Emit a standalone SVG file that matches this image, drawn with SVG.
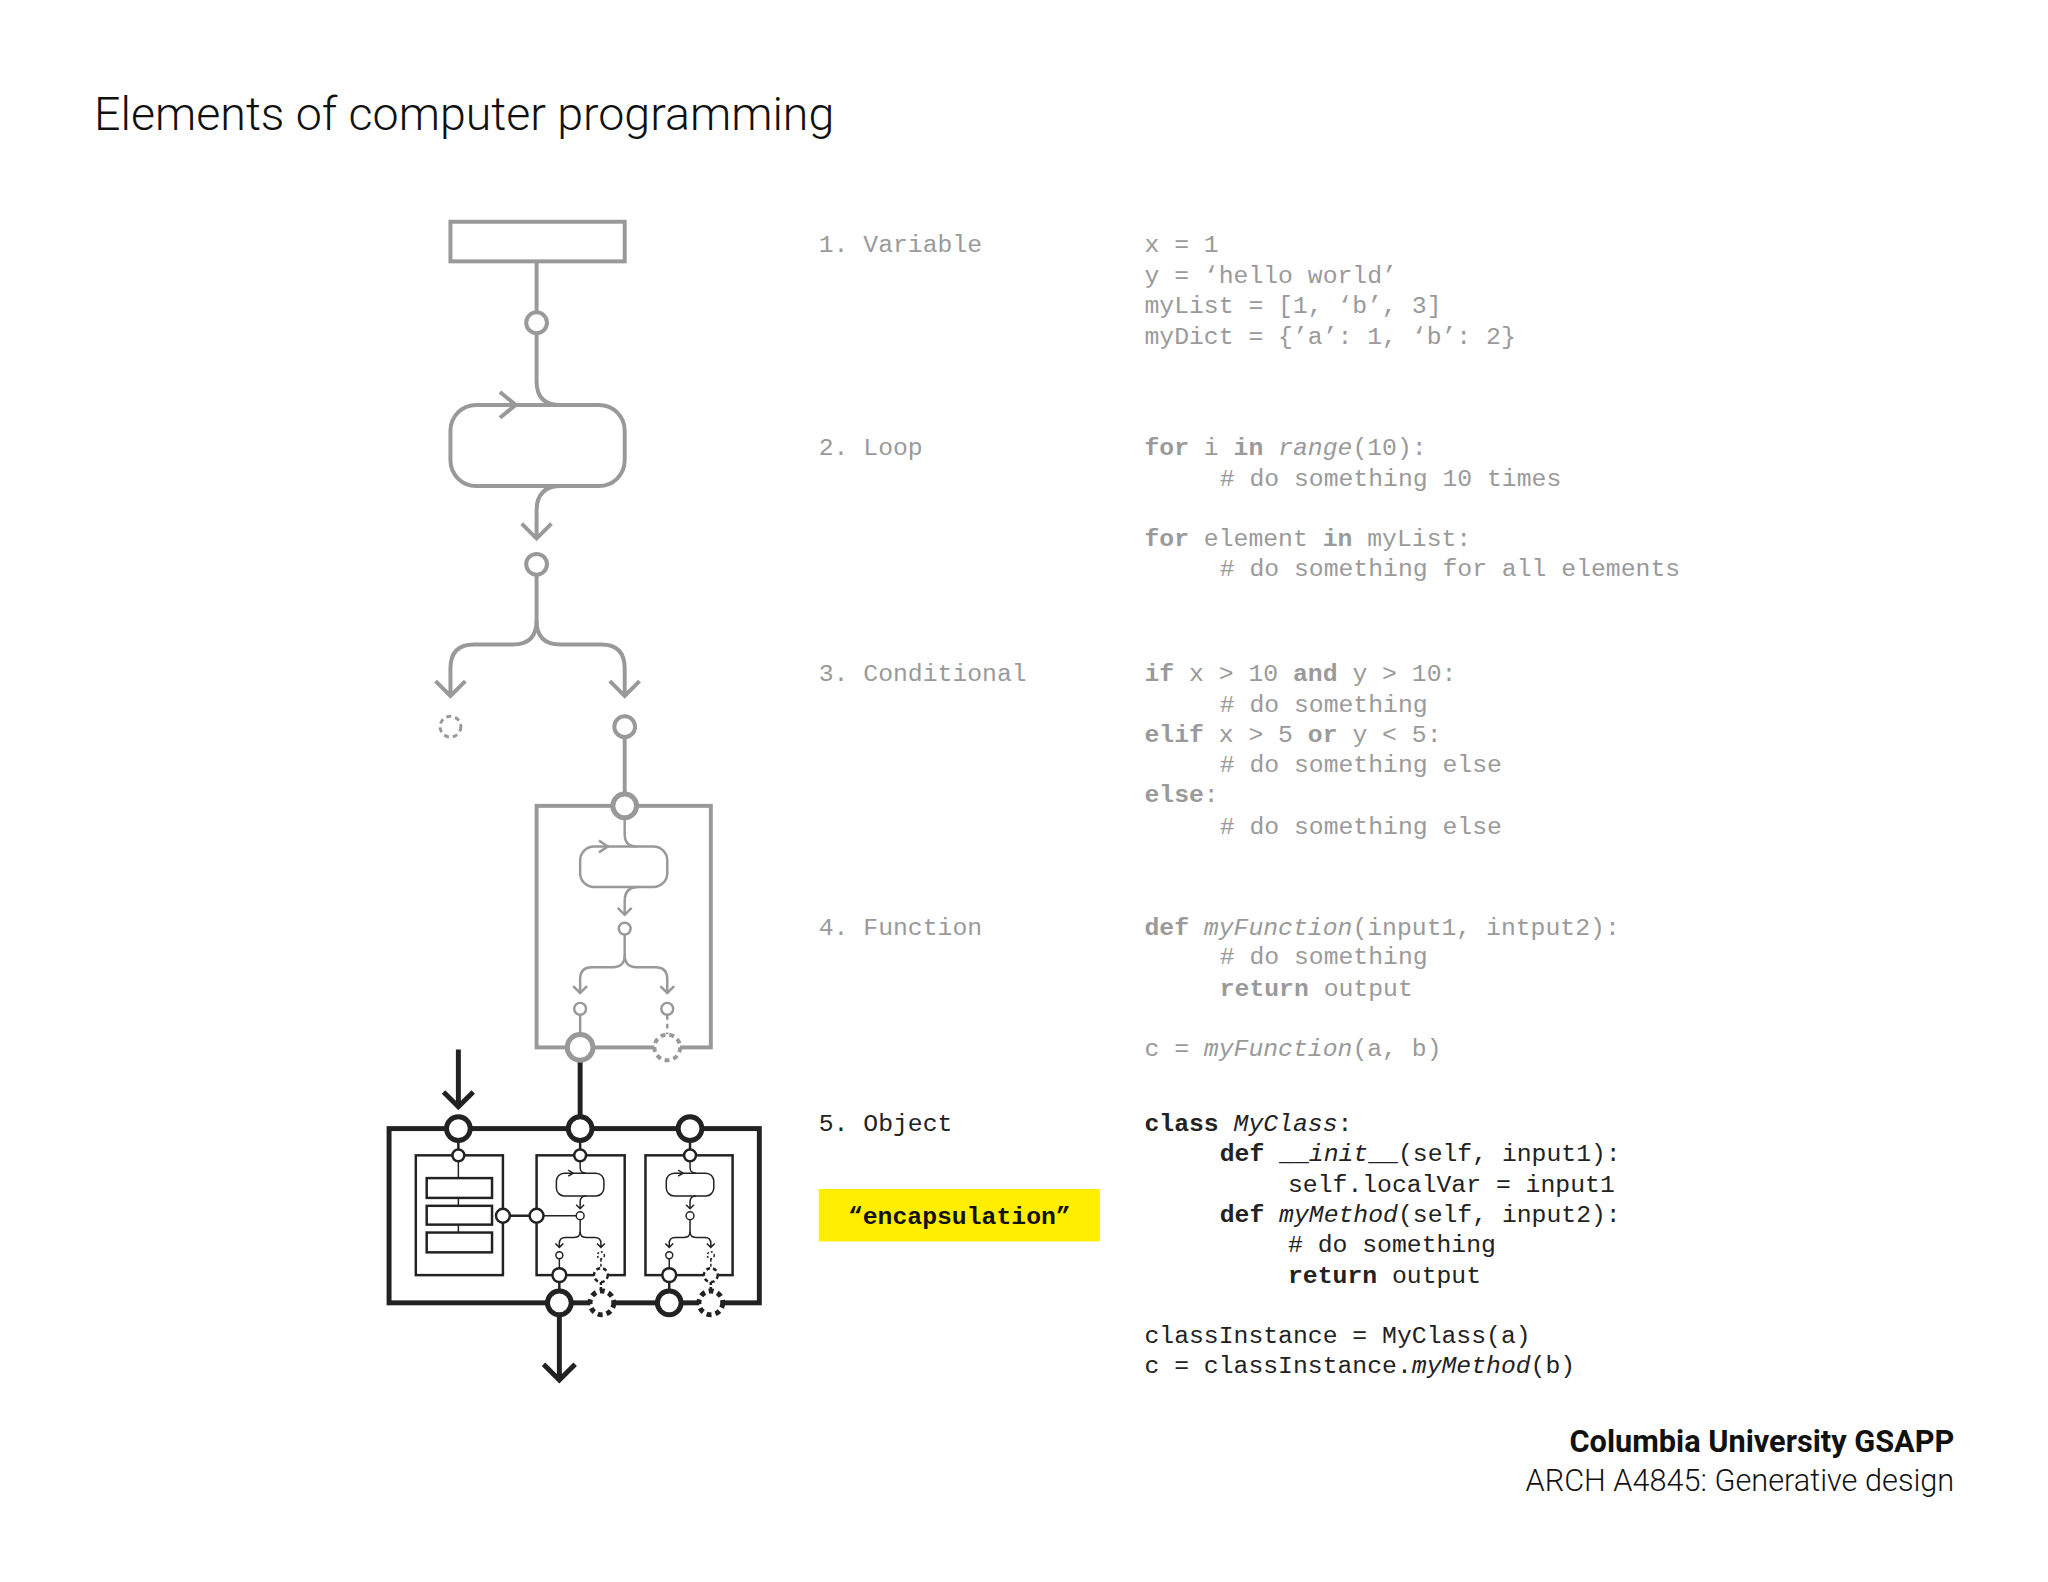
<svg xmlns="http://www.w3.org/2000/svg" xmlns:xlink="http://www.w3.org/1999/xlink" width="2048" height="1582" viewBox="0 0 2048 1582">
<style>
.g{fill:none;stroke:#999;stroke-width:4;stroke-linecap:butt}
.gt{fill:none;stroke:#999;stroke-width:2.5}
.gc{fill:#fff;stroke:#999;stroke-width:4}
.gct{fill:#fff;stroke:#999;stroke-width:2.5}
.k{fill:none;stroke:#222;stroke-width:5}
.k2{fill:none;stroke:#222;stroke-width:2.5}
.k1{fill:none;stroke:#222;stroke-width:1.5}
.kc{fill:#fff;stroke:#222;stroke-width:5}
.kc2{fill:#fff;stroke:#222;stroke-width:2.5}
.kc1{fill:#fff;stroke:#222;stroke-width:1.5}
.d{stroke-dasharray:5 4}
.code{font-family:"Liberation Mono",monospace;font-size:25px;fill:#9a9a9a}
.b{font-weight:bold}
.i{font-style:italic}
.sans{font-family:Roboto,"Liberation Sans",sans-serif}
</style>
<defs>
<g id="mini">
<path class="k1" d="M0,6 V12 Q0,18 6,18"/>
<rect class="k1" x="-24" y="18" width="48" height="23" rx="8"/>
<path class="k1" d="M-12,15 L-7,18 L-12,21"/>
<path class="k1" d="M6,41 Q0,41 0,47 V54 M-4,50 L0,54 L4,50"/>
<circle class="kc1" cx="0" cy="61" r="4"/>
<path class="k1" d="M0,65 V77 Q0,83 -6,83 H-15 Q-21,83 -21,89 V93 M-25,89 L-21,93 L-17,89"/>
<path class="k1" d="M0,77 Q0,83 6,83 H15 Q21,83 21,89 V93 M17,89 L21,93 L25,89"/>
<circle class="kc1" cx="-21" cy="101" r="3.5"/>
<circle class="kc1" cx="21" cy="101" r="3.5" style="stroke-dasharray:2 2"/>
<path class="k1" d="M-21,104.5 V114"/>
<path class="k1" d="M21,104.5 V114" style="stroke-dasharray:3 2"/>
<circle class="kc2" cx="-21" cy="121" r="7"/>
<circle class="kc2" cx="21" cy="121" r="7" style="stroke-dasharray:4 3"/>
<path class="k2" d="M-21,128 V137"/>
<path class="k2" d="M21,128 V137" style="stroke-dasharray:3 2"/>
</g>
</defs>
<g transform="scale(0.99)">
<text class="sans" x="95" y="131" font-size="47" font-weight="300" fill="#111">Elements of computer programming</text>

<g id="connectors">
<path class="g" d="M542,264 V315.5"/>
<path class="g" d="M542,336.5 V385 Q542,409 566,409"/>
<path class="g" d="M505,396 L521,409 L505,422"/>
<path class="g" d="M567,491 Q542,491 542,516 V544 M527,529 L542,544 L557,529"/>
<path class="g" d="M542,580.5 V627 Q542,651 518,651 H479 Q455,651 455,675 V703 M440,688 L455,703 L470,688"/>
<path class="g" d="M542,627 Q542,651 566,651 H607 Q631,651 631,675 V703 M616,688 L631,703 L646,688"/>
<path class="g" d="M631,744.5 V802"/>
<path class="gt" d="M631,826 V843 Q631,855 643,855"/>
<path class="gt" d="M605,849 L614,855 L605,861"/>
<path class="gt" d="M645,896 Q631,896 631,910 V924 M624,917 L631,924 L638,917"/>
<path class="gt" d="M631,944 V965 Q631,977 619,977 H598 Q586,977 586,989 V1003 M579,996 L586,1003 L593,996"/>
<path class="gt" d="M631,965 Q631,977 643,977 H662 Q674,977 674,989 V1003 M667,996 L674,1003 L681,996"/>
<path class="gt" d="M586,1025 V1045"/>
<path class="gt d" d="M674,1025 V1045"/>
<path class="k" d="M586,1071 V1128"/>
<path class="k" d="M463,1060 V1118 M448,1103 L463,1118 L478,1103"/>
<path class="k" d="M565,1328 V1394 M549,1378 L565,1394 L581,1378"/>
</g>

<g id="variable"><rect class="g" x="455" y="224" width="176" height="40"/><circle class="gc" cx="542" cy="326" r="10.5"/></g>
<g id="loop"><rect class="g" x="455" y="409" width="176" height="82" rx="26"/><circle class="gc" cx="542" cy="570" r="10.5"/></g>
<g id="conditional"><circle class="gc d" cx="455" cy="734" r="10.5" style="stroke-width:3"/><circle class="gc" cx="631" cy="734" r="10.5"/></g>
<g id="function">
<rect class="g" x="542" y="814" width="176" height="244"/>
<circle class="gc" cx="631" cy="814" r="12" style="stroke-width:5"/>
<rect class="gt" x="586" y="855" width="88" height="41" rx="14"/>
<circle class="gct" cx="631" cy="938" r="6"/>
<circle class="gct" cx="586" cy="1019" r="6"/>
<circle class="gct" cx="674" cy="1019" r="6"/>
<circle class="gc" cx="586" cy="1058" r="13" style="stroke-width:5"/>
<circle class="gc d" cx="674" cy="1058" r="13"/>
</g>
<g id="object">
<rect class="k" x="393" y="1140" width="374" height="176"/>
<path class="k2" d="M463,1152 V1161 M586,1152 V1161 M697,1152 V1161"/>
<rect class="k2" x="420" y="1167" width="88" height="121" fill="#fff"/>
<rect class="k2" x="542" y="1167" width="89" height="121"/>
<rect class="k2" x="652" y="1167" width="88" height="121"/>
<path class="k1" d="M463,1173 V1245"/>
<rect class="kc2" x="431" y="1190" width="66" height="20"/>
<rect class="kc2" x="431" y="1218" width="66" height="19"/>
<rect class="kc2" x="431" y="1245" width="66" height="20"/>
<path class="k2" d="M515,1228 H535"/>
<path class="k1" d="M549,1228 H582"/>
<circle class="kc2" cx="508" cy="1228" r="7"/>
<circle class="kc2" cx="542" cy="1228" r="7"/>
<circle class="kc2" cx="463" cy="1167" r="6"/>
<circle class="kc2" cx="586" cy="1167" r="6"/>
<circle class="kc2" cx="697" cy="1167" r="6"/>
<use xlink:href="#mini" transform="translate(586,1167)"/>
<use xlink:href="#mini" transform="translate(697,1167)"/>
<circle class="kc" cx="463" cy="1140" r="12"/>
<circle class="kc" cx="586" cy="1140" r="12"/>
<circle class="kc" cx="697" cy="1140" r="12"/>
<circle class="kc" cx="565" cy="1316" r="12"/>
<circle class="kc d" cx="608" cy="1316" r="12"/>
<circle class="kc" cx="676" cy="1316" r="12"/>
<circle class="kc d" cx="718" cy="1316" r="12"/>
</g>

<g transform="translate(0,3)">
<g id="text1" class="code">
<text x="827" y="252">1. Variable</text>
<text x="1156" y="252">x = 1</text>
<text x="1156" y="283">y = ‘hello world’</text>
<text x="1156" y="313">myList = [1, ‘b’, 3]</text>
<text x="1156" y="344">myDict = {’a’: 1, ‘b’: 2}</text>
<text x="827" y="457">2. Loop</text>
<text x="1156" y="457"><tspan class="b">for</tspan> i <tspan class="b">in</tspan> <tspan class="i">range</tspan>(10):</text>
<text x="1232" y="488"># do something 10 times</text>
<text x="1156" y="549"><tspan class="b">for</tspan> element <tspan class="b">in</tspan> myList:</text>
<text x="1232" y="579"># do something for all elements</text>
<text x="827" y="685">3. Conditional</text>
<text x="1156" y="685"><tspan class="b">if</tspan> x &gt; 10 <tspan class="b">and</tspan> y &gt; 10:</text>
<text x="1232" y="716"># do something</text>
<text x="1156" y="747"><tspan class="b">elif</tspan> x &gt; 5 <tspan class="b">or</tspan> y &lt; 5:</text>
<text x="1232" y="777"># do something else</text>
<text x="1156" y="807"><tspan class="b">else</tspan>:</text>
<text x="1232" y="839"># do something else</text>
<text x="827" y="941">4. Function</text>
<text x="1156" y="941"><tspan class="b">def</tspan> <tspan class="i">myFunction</tspan>(input1, intput2):</text>
<text x="1232" y="971"># do something</text>
<text x="1232" y="1003"><tspan class="b">return</tspan> output</text>
<text x="1156" y="1064">c = <tspan class="i">myFunction</tspan>(a, b)</text>
</g>
<g id="text5" class="code" style="fill:#222">
<text x="827" y="1139">5. Object</text>
<text x="1156" y="1139"><tspan class="b">class</tspan> <tspan class="i">MyClass</tspan>:</text>
<text x="1232" y="1170"><tspan class="b">def</tspan> __<tspan class="i">init</tspan>__(self, input1):</text>
<text x="1301" y="1201">self.localVar = input1</text>
<text x="1232" y="1231"><tspan class="b">def</tspan> <tspan class="i">myMethod</tspan>(self, input2):</text>
<text x="1301" y="1262"># do something</text>
<text x="1301" y="1293"><tspan class="b">return</tspan> output</text>
<text x="1156" y="1354">classInstance = MyClass(a)</text>
<text x="1156" y="1384">c = classInstance.<tspan class="i">myMethod</tspan>(b)</text>
</g>
</g>
<g id="encapsulation">
<rect x="827" y="1201" width="284" height="53" fill="#ffee00"/>
<text x="969" y="1236" class="code b" style="fill:#111" text-anchor="middle">“encapsulation”</text>
</g>
<g id="footer" class="sans" text-anchor="end" fill="#111">
<text x="1974" y="1467" font-size="31" font-weight="bold">Columbia University GSAPP</text>
<text x="1974" y="1506" font-size="31" font-weight="300">ARCH A4845: Generative design</text>
</g>
</g>
</svg>
